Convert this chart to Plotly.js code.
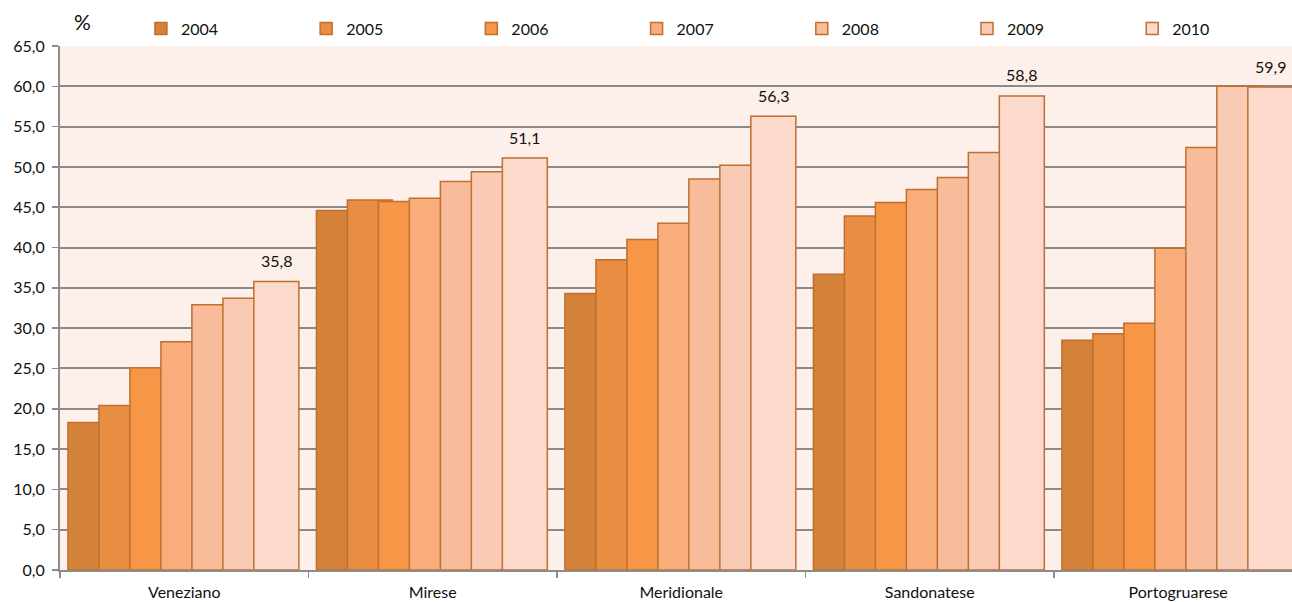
<!DOCTYPE html>
<html>
<head>
<meta charset="utf-8">
<script src="https://cdn.plot.ly/plotly-3.0.1.min.js"></script>
<style>
  html, body { margin: 0; padding: 0; background: #ffffff; }
  #chart { width: 1292px; height: 602px; }
</style>
</head>
<body>
<div id="chart"></div>
<script>
const categories = ['Veneziano', 'Mirese', 'Meridionale', 'Sandonatese', 'Portogruarese'];
const years = ['2004', '2005', '2006', '2007', '2008', '2009', '2010'];
const v2004 = [18.3, 44.6, 34.3, 36.7, 28.5];
const v2005 = [20.4, 45.9, 38.5, 43.9, 29.3];
const v2006 = [25.1, 45.7, 41.0, 45.6, 30.6];
const v2007 = [28.3, 46.1, 43.0, 47.2, 39.9];
const v2008 = [32.9, 48.2, 48.5, 48.7, 52.4];
const v2009 = [33.7, 49.4, 50.2, 51.8, 60.0];
const v2010 = [35.8, 51.1, 56.3, 58.8, 59.9];
const seriesValues = [v2004, v2005, v2006, v2007, v2008, v2009, v2010];
const labelledSeries = 6; // only 2010 carries data labels
const yTickVals = [0, 5, 10, 15, 20, 25, 30, 35, 40, 45, 50, 55, 60, 65];

const colors = ['#D4813A', '#E78E42', '#F79646', '#F8AD7B', '#F9BC9B', '#F9CAB4', '#FCDACC'];
const outline = '#BF6F2E';
const font = 'Lato, "Open Sans", sans-serif';
const textColor = '#111111';

// Excel-like overlapping bars
const barWidth = 0.181;
const barStep = 0.1247;
const groupStart = -0.468;

// one single-item legend per series, laid out in a row above the plot
const legendStart = 0.0657;
const legendStep = 0.1341;
const legendName = i => (i === 0 ? 'legend' : 'legend' + (i + 1));

const traces = years.map((yr, i) => ({
  type: 'bar',
  name: yr,
  x: categories,
  y: seriesValues[i],
  offset: groupStart + i * barStep,
  width: barWidth,
  legend: legendName(i),
  marker: { color: colors[i], line: { color: outline, width: 1.5 } },
  hoverinfo: 'x+y+name'
}));

const annotations = seriesValues[labelledSeries].map((v, j) => ({
  x: j + groupStart + labelledSeries * barStep + barWidth / 2,
  y: v,
  xref: 'x', yref: 'y',
  text: v.toFixed(1).replace('.', ','),
  showarrow: false,
  yshift: 21,
  font: { family: font, size: 16, color: textColor }
}));

annotations.push({
  xref: 'paper', yref: 'paper',
  x: 0.0179, y: 1.046,
  text: '%', showarrow: false,
  xanchor: 'center', yanchor: 'middle',
  font: { family: font, size: 21, color: textColor }
});

const layout = {
  width: 1292, height: 602,
  margin: { l: 60, r: 0, t: 46, b: 32 },
  paper_bgcolor: '#ffffff',
  plot_bgcolor: '#FDEFEA',
  barmode: 'overlay',
  separators: ',.',
  font: { family: font, size: 16, color: textColor },
  showlegend: true,
  xaxis: {
    type: 'category',
    range: [-0.5, 4.458],
    showgrid: false,
    showline: true, linecolor: '#8C8C8C', linewidth: 2,
    ticks: 'outside', tickson: 'boundaries', ticklen: 6, tickcolor: '#8C8C8C', tickwidth: 1.5,
    ticklabelstandoff: 7,
    tickfont: { family: font, size: 16, color: textColor },
    fixedrange: true
  },
  yaxis: {
    range: [0, 65],
    tickvals: yTickVals,
    tickformat: '.1f',
    showgrid: true, gridcolor: '#8A8A8A', gridwidth: 2,
    zeroline: false,
    showline: true, linecolor: '#8C8C8C', linewidth: 2,
    ticks: 'outside', ticklen: 6, tickcolor: '#8C8C8C', tickwidth: 1.5,
    ticklabelstandoff: 4,
    tickfont: { family: font, size: 16, color: textColor },
    fixedrange: true
  },
  annotations: annotations
};

years.forEach((yr, i) => {
  layout[legendName(i)] = {
    orientation: 'h',
    x: legendStart + i * legendStep, xanchor: 'left',
    y: 1.033, yanchor: 'middle',
    itemwidth: 30,
    bgcolor: 'rgba(0,0,0,0)',
    font: { family: font, size: 16, color: textColor }
  };
});

Plotly.newPlot('chart', traces, layout, { displayModeBar: false, staticPlot: true });
</script>
</body>
</html>
